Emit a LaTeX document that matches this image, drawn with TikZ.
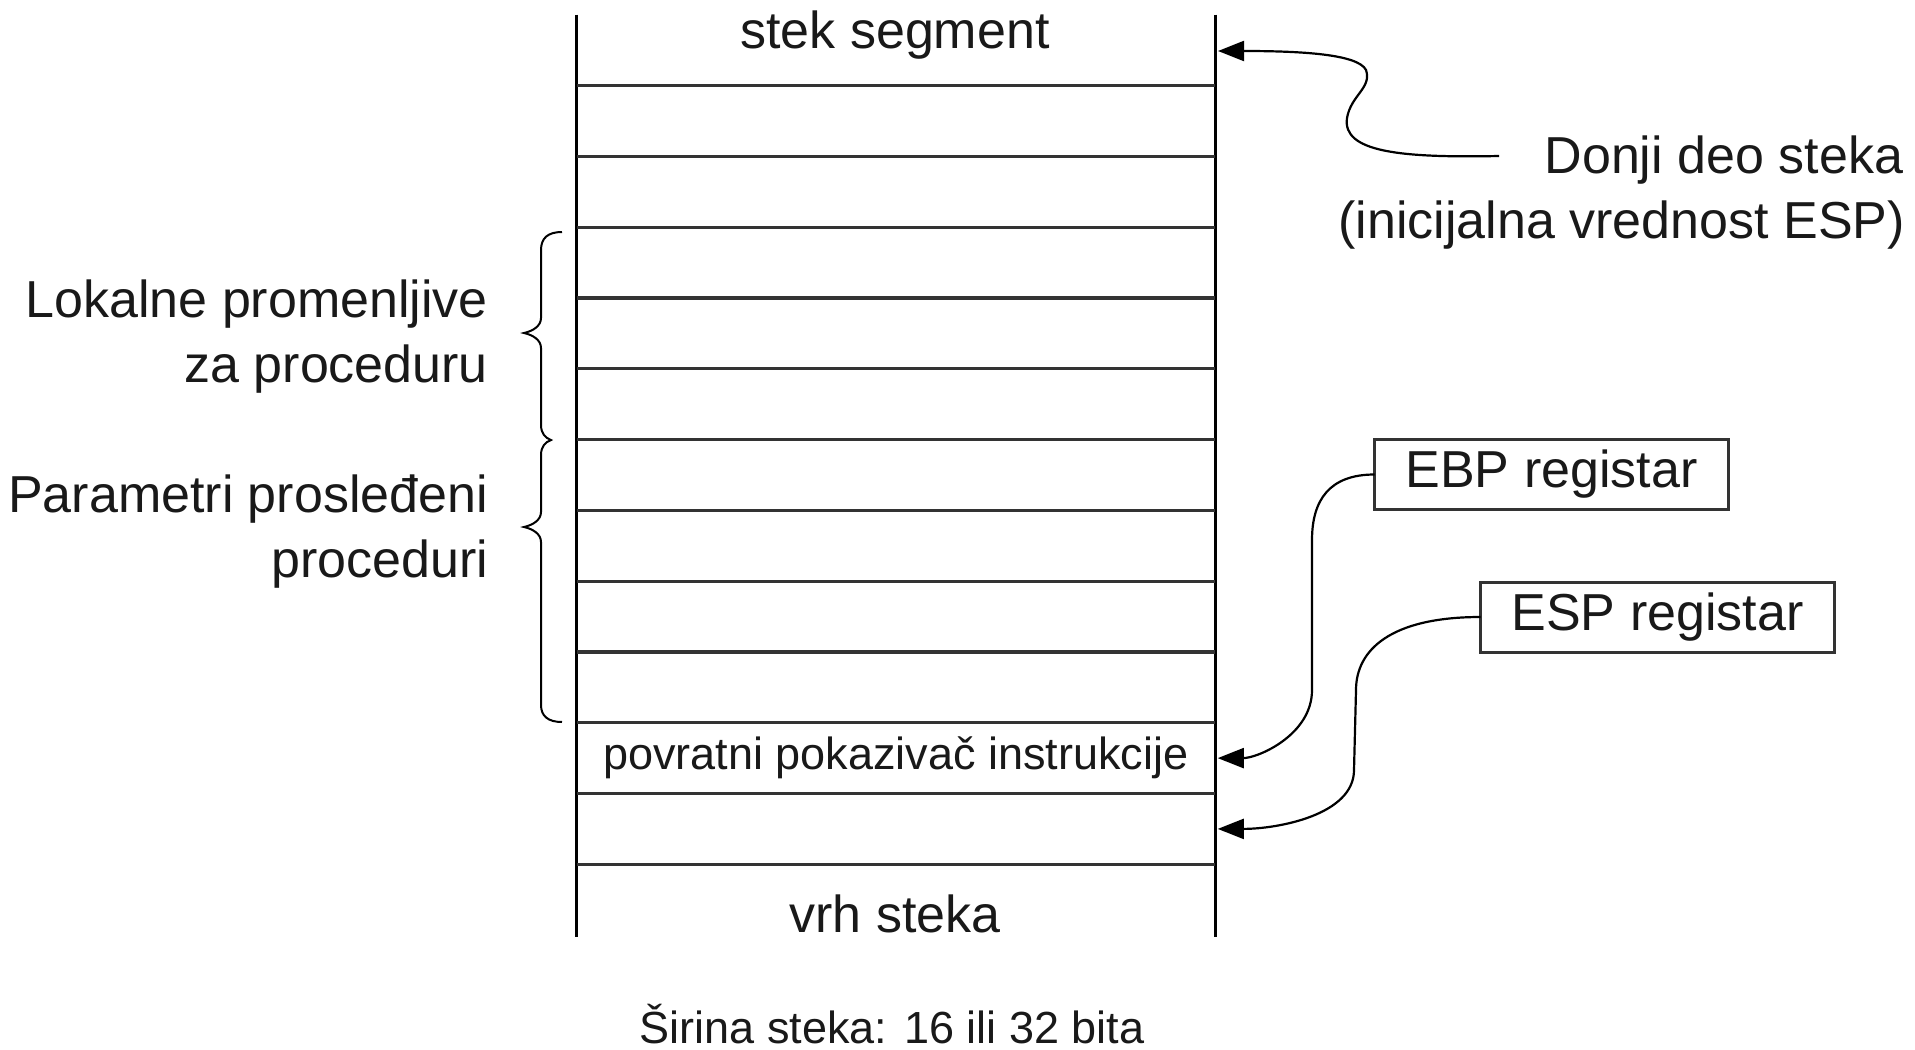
\documentclass[tikz,border=0pt]{standalone}
\usepackage{fontspec}
\setmainfont{Liberation Sans}
\usetikzlibrary{arrows.meta,calc}
\begin{document}
\begin{tikzpicture}[x=0.5pt,y=-0.5pt,
  every node/.style={inner sep=0pt,outer sep=0pt,text=black!90},
  big/.style={font=\fontsize{26}{32}\selectfont},
  small/.style={font=\fontsize{22.5}{28}\selectfont},
  vline/.style={line width=1.5pt,black},
  divider/.style={line width=1.6pt,black!80},
  regbox/.style={draw=black!80,line width=1.5pt,minimum width=177pt,minimum height=35pt,big},
  brace/.style={line width=1pt,black},
  conn/.style={line width=1.1pt,black,-{Triangle[length=13pt,width=10pt]}},
  cell/.style={minimum width=319pt,minimum height=35.4pt}
]
\useasboundingbox (0,0) rectangle (1915,1049);
\fill[white] (0,0) rectangle (1915,1049);

% stack
\draw[vline] (576.5,14.7) -- (576.5,937);
\draw[vline] (1215,14.7) -- (1215,937);
\foreach \k in {0,...,11}
  \draw[divider] (576.5,{85.5+70.8*\k}) -- (1215,{85.5+70.8*\k});

\node[big,anchor=base] (seg) at (895,48) {stek segment};
\node[cell,small] (ret) at (895.75,758.1) {povratni pokazivač instrukcije};
\node[cell] (esprow) at (895.75,828.9) {};
\node[big,anchor=base] (vrh) at (895,932) {vrh steka};
\node[small,anchor=base] (sirina) at (892,1043) {Širina steka: 16 ili 32 bita};
\coordinate (topcell) at (1218,51);

% top-right label
\node[big,anchor=base east] (donji1) at (1903,173) {Donji deo steka};
\node[big,anchor=base east] (donji2) at (1905,238) {(inicijalna vrednost ESP)};
\coordinate (dstart) at (1499,156);
\draw[conn] (dstart) .. controls (1400,158) and (1342,152) .. (1347,118)
  .. controls (1351,95) and (1372,88) .. (1366,70)
  .. controls (1358,54) and (1300,51) .. (topcell);

% registers
\node[regbox] (ebp) at (1551.5,474.5) {EBP registar};
\node[regbox] (esp) at (1657.5,617) {ESP registar};
\draw[conn] (ebp.west) .. controls +(-45,0) and +(0,-40) .. (1312,540) -- (1312,690)
  .. controls +(0,45) and +(40,0) .. ($(ret.east)+(3,0)$);
\draw[conn] (esp.west) .. controls +(-90,0) and +(0,-40) .. (1356,690) -- (1354,770)
  .. controls +(0,45) and +(60,0) .. ($(esprow.east)+(3,0)$);

% braces
\draw[brace] (562,232) .. controls (548,232) and (541,238) .. (541,250) -- (541,318)
  .. controls (541,326) and (533,331) .. (524,333)
  .. controls (533,335) and (541,340) .. (541,348) -- (541,425)
  .. controls (541,433) and (545,438) .. (551,440)
  .. controls (545,442) and (541,447) .. (541,455) -- (541,512)
  .. controls (541,520) and (533,525) .. (524,527)
  .. controls (533,529) and (541,534) .. (541,542) -- (541,705)
  .. controls (541,716) and (548,722) .. (562,722);

% left labels
\node[big,anchor=base east] (lok1) at (488,317) {Lokalne promenljive};
\node[big,anchor=base east] (lok2) at (488,382) {za proceduru};
\node[big,anchor=base east] (par1) at (488,512) {Parametri prosleđeni};
\node[big,anchor=base east] (par2) at (488,577) {proceduri};
\end{tikzpicture}
\end{document}
